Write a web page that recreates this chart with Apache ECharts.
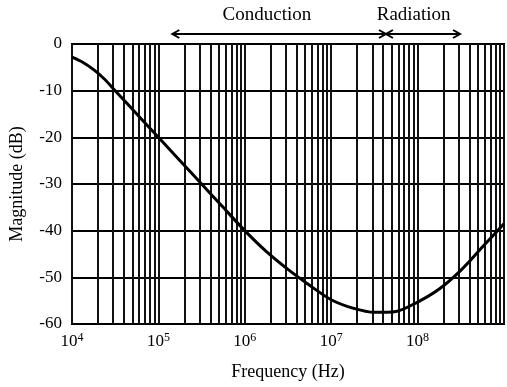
<!DOCTYPE html>
<html>
<head>
<meta charset="utf-8">
<script src="https://cdn.jsdelivr.net/npm/echarts@6/dist/echarts.min.js"></script>
<style>
  html, body { margin: 0; padding: 0; background: #fff; }
  #chart { width: 507px; height: 387px; }
</style>
</head>
<body>
<div id="chart"></div>
<script>
// curve (frequency in Hz, magnitude in dB)
const freqs = [1e4, 1.33e4, 1.78e4, 2.37e4, 3.16e4, 5.62e4, 1e5, 1.78e5, 3.16e5, 5.62e5, 1e6, 1.78e6, 3.16e6, 5.62e6,
               1e7, 1.78e7, 3.16e7, 5.62e7, 1e8, 1.78e8, 3.16e8, 5.62e8, 1e9];
const mags = [-2.8, -3.9, -5.5, -7.5, -10, -15, -20, -25, -30, -35, -40, -44.5, -48.3, -51.7,
              -54.8, -56.6, -57.5, -57.3, -55.3, -52.5, -48.5, -43.5, -38.5];

const decades = [1e4, 1e5, 1e6, 1e7, 1e8, 1e9];
const multipliers = [1, 2, 3, 4, 5, 6, 7, 8, 9];
const xTickLabels = {1e4: '4', 1e5: '5', 1e6: '6', 1e7: '7', 1e8: '8'};

// annotation ranges (Hz)
const conductionRange = [1.45e5, 4.3e7];
const radiationRange = [4.3e7, 3.1e8];
const bandLabels = [['Conduction', 1.8e6], ['Radiation', 9e7]];

const serif = '"Liberation Serif", "DejaVu Serif", serif';

// vertical log grid lines
const gridLines = [];
decades.forEach(d => {
  multipliers.forEach(m => {
    const v = d * m;
    if (v <= 1e9) gridLines.push({xAxis: v});
  });
});

const chart = echarts.init(document.getElementById('chart'));
chart.setOption({
  animation: false,
  grid: {left: 72, top: 44, right: 1, bottom: 63, show: true, borderColor: '#000', borderWidth: 2},
  xAxis: {
    type: 'log',
    logBase: 10,
    min: 1e4,
    max: 1e9,
    name: 'Frequency (Hz)',
    nameLocation: 'middle',
    nameGap: 39,
    nameTextStyle: {fontFamily: serif, fontSize: 18, color: '#000'},
    axisLine: {show: true, lineStyle: {color: '#000', width: 2}},
    axisTick: {show: false},
    splitLine: {show: false},
    axisLabel: {
      fontFamily: serif, fontSize: 17, color: '#000', margin: 8,
      formatter: v => {
        const e = xTickLabels[Math.round(v)];
        return e ? '10{s|' + e + '}' : '';
      },
      rich: {s: {fontFamily: serif, fontSize: 12, color: '#000', padding: [0, 0, 8, 0]}}
    }
  },
  yAxis: {
    type: 'value',
    min: -60,
    max: 0,
    interval: 10,
    name: 'Magnitude (dB)',
    nameLocation: 'middle',
    nameGap: 46,
    nameTextStyle: {fontFamily: serif, fontSize: 18, color: '#000'},
    axisLine: {show: true, lineStyle: {color: '#000', width: 2}},
    axisTick: {show: false},
    splitLine: {show: true, lineStyle: {color: '#000', width: 2}},
    axisLabel: {fontFamily: serif, fontSize: 17, color: '#000', margin: 10}
  },
  series: [{
    type: 'line',
    data: freqs.map((f, i) => [f, mags[i]]),
    smooth: 0.3,
    showSymbol: false,
    lineStyle: {color: '#000', width: 3},
    z: 5,
    markLine: {
      silent: true,
      symbol: 'none',
      label: {show: false},
      lineStyle: {color: '#111', width: 2, type: 'solid'},
      data: gridLines
    }
  }]
});

// arrows and band labels above the plot
function px(f) { return chart.convertToPixel({xAxisIndex: 0}, f); }
const y0 = chart.convertToPixel({yAxisIndex: 0}, 0);
const arrowY = y0 - 10;
const graphics = [];
function arrow(a, b) {
  const x1 = px(a), x2 = px(b);
  graphics.push({type: 'line', shape: {x1: x1, y1: arrowY, x2: x2, y2: arrowY}, style: {stroke: '#000', lineWidth: 2}});
  graphics.push({type: 'polyline', shape: {points: [[x1 + 7, arrowY - 4], [x1, arrowY], [x1 + 7, arrowY + 4]]}, style: {stroke: '#000', lineWidth: 2, fill: null}});
  graphics.push({type: 'polyline', shape: {points: [[x2 - 7, arrowY - 4], [x2, arrowY], [x2 - 7, arrowY + 4]]}, style: {stroke: '#000', lineWidth: 2, fill: null}});
}
arrow(conductionRange[0], conductionRange[1]);
arrow(radiationRange[0], radiationRange[1]);
bandLabels.forEach(([t, f]) => {
  graphics.push({type: 'text', x: px(f), y: 15, style: {text: t, fontFamily: serif, fontSize: 19, fill: '#000', align: 'center', verticalAlign: 'middle'}});
});
chart.setOption({graphic: graphics});
</script>
</body>
</html>
